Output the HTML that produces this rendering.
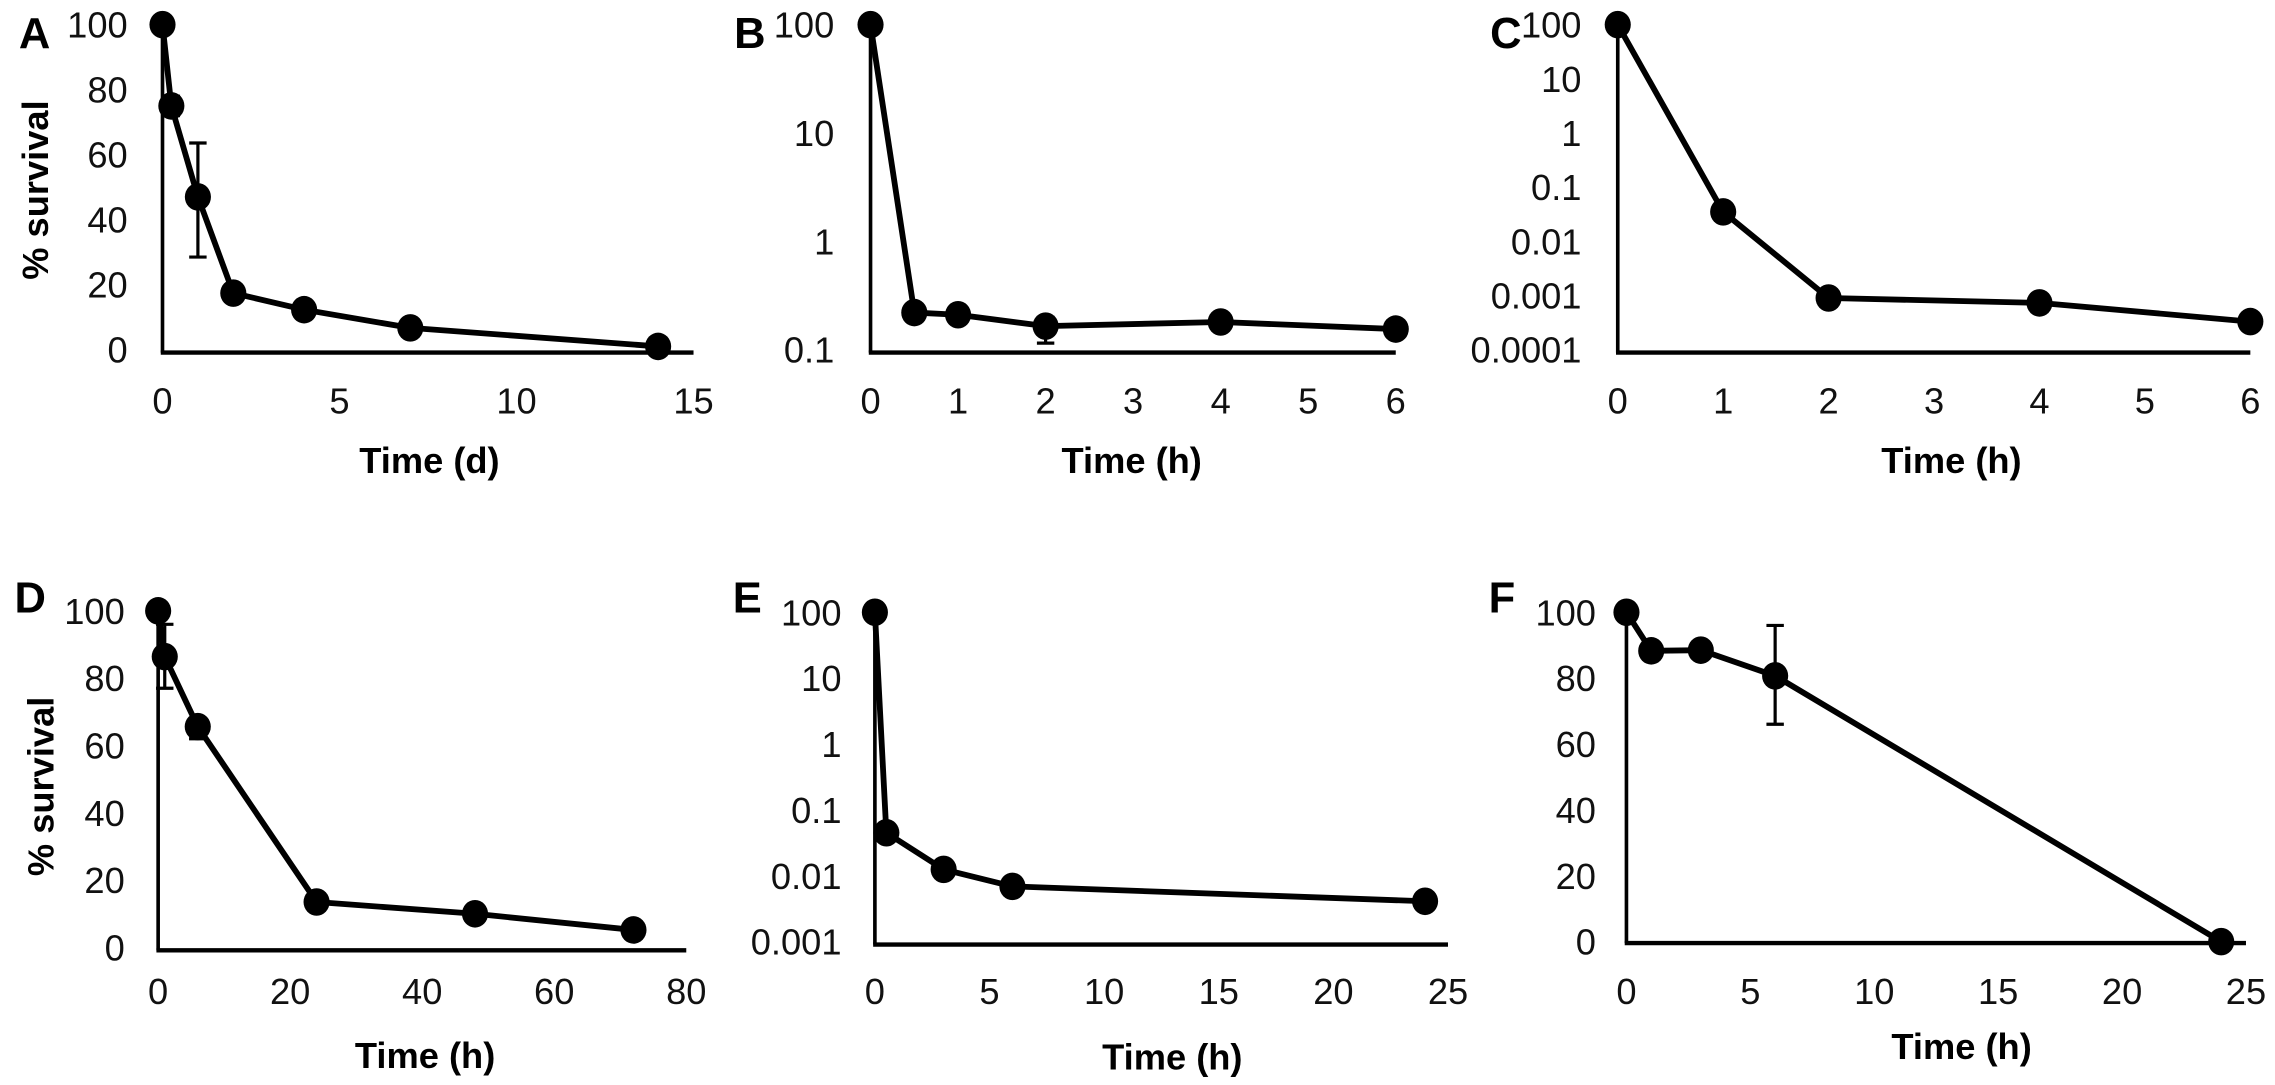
<!DOCTYPE html>
<html><head><meta charset="utf-8"><style>
html,body{margin:0;padding:0;background:#fff;}
svg{display:block;font-family:"Liberation Sans",Arial,sans-serif;}
</style></head><body>
<svg id="fig" width="2275" height="1085" viewBox="0 0 1568 747.8" preserveAspectRatio="none" xmlns="http://www.w3.org/2000/svg"></svg>
<script>
// Panel A data
const aTimes = [0, 0.25, 1, 2, 4, 7, 14];
const aValues = [100, 75, 47, 17.4, 12.3, 6.7, 1];
const aErrLow = [100, 72, 28.5, 16, 11, 6, 0.5];
const aErrHigh = [100, 78, 63.6, 19, 13.5, 7.5, 1.5];
const aXTicks = [0, 5, 10, 15];
const aYTicks = [0, 20, 40, 60, 80, 100];
// Panel B data
const bTimes = [0, 0.5, 1, 2, 4, 6];
const bValues = [100, 0.22, 0.21, 0.165, 0.18, 0.155];
const bErrLow = [100, 0.2, 0.19, 0.115, 0.165, 0.145];
const bErrHigh = [100, 0.24, 0.23, 0.2, 0.2, 0.165];
const bXTicks = [0, 1, 2, 3, 4, 5, 6];
const bYTicks = [0.1, 1, 10, 100];
// Panel C data
const cTimes = [0, 1, 2, 4, 6];
const cValues = [100, 0.035, 0.0009, 0.00073, 0.00033];
const cErrLow = [100, 0.03, 0.0008, 0.0005, 0.00024];
const cErrHigh = [100, 0.04, 0.001, 0.0009, 0.0004];
const cXTicks = [0, 1, 2, 3, 4, 5, 6];
const cYTicks = [0.0001, 0.001, 0.01, 0.1, 1, 10, 100];
// Panel D data
const dTimes = [0, 1, 6, 24, 48, 72];
const dValues = [100, 86.4, 65.6, 13.5, 10, 5.2];
const dErrLow = [100, 77, 62, 12, 9, 4.5];
const dErrHigh = [100, 96, 68, 15, 11, 6];
const dXTicks = [0, 20, 40, 60, 80];
const dYTicks = [0, 20, 40, 60, 80, 100];
// Panel E data
const eTimes = [0, 0.5, 3, 6, 24];
const eValues = [100, 0.045, 0.0125, 0.0069, 0.0041];
const eErrLow = [100, 0.04, 0.011, 0.006, 0.0037];
const eErrHigh = [100, 0.05, 0.014, 0.0078, 0.0045];
const eXTicks = [0, 5, 10, 15, 20, 25];
const eYTicks = [0.001, 0.01, 0.1, 1, 10, 100];
// Panel F data
const fTimes = [0, 1, 3, 6, 24];
const fValues = [100, 88.3, 88.5, 80.7, 0];
const fErrLow = [100, 87, 86, 66, 0];
const fErrHigh = [100, 90, 91, 96, 0];
const fXTicks = [0, 5, 10, 15, 20, 25];
const fYTicks = [0, 20, 40, 60, 80, 100];

const NS = "http://www.w3.org/2000/svg";
const svg = document.getElementById('fig');
function mk(tag, attrs, parent) {
  const e = document.createElementNS(NS, tag);
  for (const k in attrs) e.setAttribute(k, attrs[k]);
  (parent || svg).appendChild(e);
  return e;
}

const panels = [
  {id:'a', label:'A', lx:13, ly:33, times:aTimes, vals:aValues, lo:aErrLow, hi:aErrHigh, xt:aXTicks, yt:aYTicks, log:false,
   x0:112, x1:478, xmax:15, yTop:17, yBot:241, axisY:243, ylabR:88, tickY:285, title:'Time  (d)', tx:296, ty:326, ylab:true, ylx:24, lyc:131},
  {id:'b', label:'B', lx:506, ly:33, times:bTimes, vals:bValues, lo:bErrLow, hi:bErrHigh, xt:bXTicks, yt:bYTicks, log:true,
   x0:600, x1:962, xmax:6, yTop:17, yBot:241, axisY:243, ylabR:575, tickY:285, title:'Time  (h)', tx:780, ty:326},
  {id:'c', label:'C', lx:1027, ly:33, times:cTimes, vals:cValues, lo:cErrLow, hi:cErrHigh, xt:cXTicks, yt:cYTicks, log:true,
   x0:1115, x1:1551, xmax:6, yTop:17, yBot:241, axisY:243, ylabR:1090, tickY:285, title:'Time  (h)', tx:1345, ty:326},
  {id:'d', label:'D', lx:10, ly:422, times:dTimes, vals:dValues, lo:dErrLow, hi:dErrHigh, xt:dXTicks, yt:dYTicks, log:false,
   x0:109, x1:473, xmax:80, yTop:421, yBot:653, axisY:655, ylabR:86, tickY:692, title:'Time  (h)', tx:293, ty:736, ylab:true, ylx:28, lyc:542},
  {id:'e', label:'E', lx:505, ly:422, times:eTimes, vals:eValues, lo:eErrLow, hi:eErrHigh, xt:eXTicks, yt:eYTicks, log:true,
   x0:603, x1:998, xmax:25, yTop:422, yBot:649, axisY:651, ylabR:580, tickY:692, title:'Time  (h)', tx:808, ty:737},
  {id:'f', label:'F', lx:1026, ly:422, times:fTimes, vals:fValues, lo:fErrLow, hi:fErrHigh, xt:fXTicks, yt:fYTicks, log:false,
   x0:1121, x1:1548, xmax:25, yTop:422, yBot:649, axisY:650, ylabR:1100, tickY:692, title:'Time  (h)', tx:1352, ty:730}
];

panels.forEach(p => {
  const g = mk('g', {});
  
  
  const xs = v => p.x0 + (v / p.xmax) * (p.x1 - p.x0);
  const ymin = p.yt[0], ymax = p.yt[p.yt.length - 1];
  const ys = p.log
    ? v => p.yBot - (Math.log10(v) - Math.log10(ymin)) / (Math.log10(ymax) - Math.log10(ymin)) * (p.yBot - p.yTop)
    : v => p.yBot - (v - ymin) / (ymax - ymin) * (p.yBot - p.yTop);

  const lab = mk('text', {x:p.lx, y:p.ly, 'font-size':30, 'font-weight':'bold', fill:'#000'}, g);
  lab.textContent = p.label;
  
  

  const ya = mk('line', {x1:p.x0, y1:ys(ymax), x2:p.x0, y2:p.axisY, stroke:'#000', 'stroke-width':2.5}, g);
  
  
  const xa = mk('line', {x1:p.x0 - 1.2, y1:p.axisY, x2:p.x1, y2:p.axisY, stroke:'#000', 'stroke-width':3}, g);
  
  

  p.yt.forEach(v => {
    const t = mk('text', {x:p.ylabR, y:ys(v) + 9, 'font-size':25, 'text-anchor':'end', fill:'#111'}, g);
    t.textContent = String(v);
    
    
  });
  p.xt.forEach(v => {
    const t = mk('text', {x:xs(v), y:p.tickY, 'font-size':25, 'text-anchor':'middle', fill:'#111'}, g);
    t.textContent = String(v);
    
    
  });
  const tt = mk('text', {x:p.tx, y:p.ty, 'font-size':25, 'font-weight':'bold', 'text-anchor':'middle', fill:'#000', 'xml:space':'preserve'}, g);
  tt.textContent = p.title;
  
  
  if (p.ylab) {
    const yl = mk('text', {x:0, y:0, 'font-size':25, 'font-weight':'bold', 'text-anchor':'middle', fill:'#000',
      transform:'translate(' + (p.ylx + 9) + ',' + p.lyc + ') rotate(-90)'}, g);
    yl.textContent = '% survival';
    
    
  }

  p.times.forEach((t, i) => {
    const x = xs(t), y1 = ys(p.lo[i]), y2 = ys(p.hi[i]);
    if (Math.abs(y1 - y2) < 1) return;
    const eb = mk('path', {d:'M' + x + ',' + y1 + 'V' + y2 + 'M' + (x - 6) + ',' + y1 + 'H' + (x + 6) + 'M' + (x - 6) + ',' + y2 + 'H' + (x + 6),
      stroke:'#000', 'stroke-width':2.2, fill:'none'}, g);
    
    
  });
  const pts = p.times.map((t, i) => xs(t) + ',' + ys(p.vals[i])).join(' ');
  const pl = mk('polyline', {points:pts, fill:'none', stroke:'#000', 'stroke-width':4, 'stroke-linejoin':'round'}, g);
  
  
  p.times.forEach((t, i) => {
    const c = mk('ellipse', {cx:xs(t), cy:ys(p.vals[i]), rx:9, ry:9.5, fill:'#000'}, g);
    
    
  });
});
</script>
</body></html>
